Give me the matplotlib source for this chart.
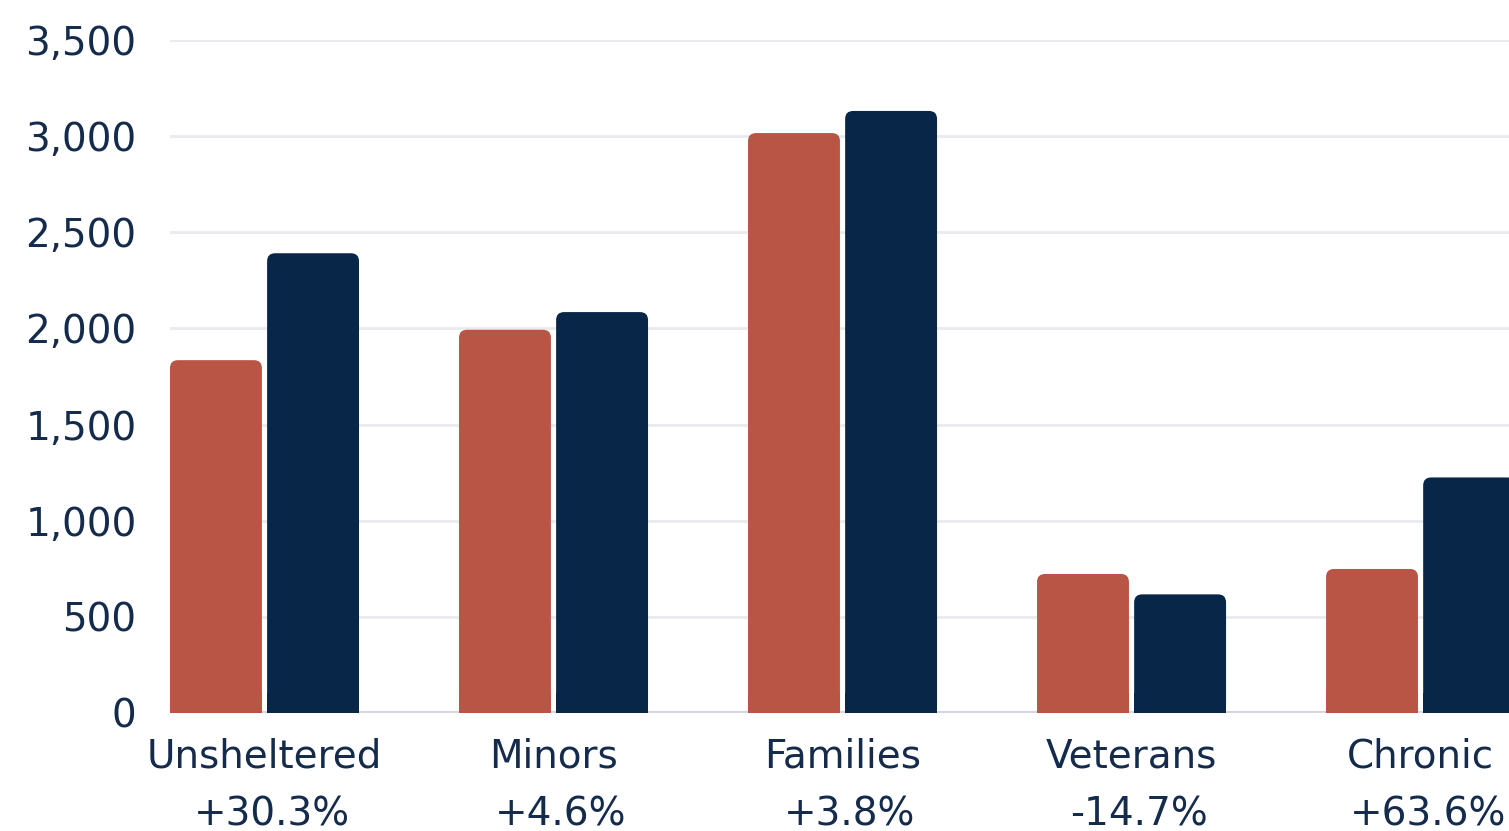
import matplotlib
matplotlib.use("Agg")
import matplotlib.pyplot as plt
from matplotlib.patches import FancyBboxPatch, Rectangle
from matplotlib.ticker import FuncFormatter

categories = ["Unsheltered", "Minors", "Families", "Veterans", "Chronic"]
changes = ["+30.3%", "+4.6%", "+3.8%", "-14.7%", "+63.6%"]
earlier = [1835, 1993, 3016, 723, 749]
later = [2391, 2085, 3131, 617, 1225]
yticks = [0, 500, 1000, 1500, 2000, 2500, 3000, 3500]

RED = "#B85545"
NAVY = "#082648"
TEXT = "#142B4C"
GRID = "#E8EAEE"

plt.rcParams["font.family"] = ["DejaVu Sans"]
FS = 28

W, H = 1509, 831
fig = plt.figure(figsize=(W / 100, H / 100), dpi=100)
ax_left, ax_right = 170 / W, 1.0
ax_bottom, ax_top = 1 - 713 / H, 1 - 40 / H
ax = fig.add_axes([ax_left, ax_bottom, ax_right - ax_left, ax_top - ax_bottom])

xmin, xmax = -0.327, 4.306
ymin, ymax = 0, 3500
ax.set_xlim(xmin, xmax)
ax.set_ylim(ymin, ymax)

width = 0.318
offset = 0.168
ax_w_px = (ax_right - ax_left) * W
ax_h_px = (ax_top - ax_bottom) * H
x_per_px = (xmax - xmin) / ax_w_px
y_per_px = (ymax - ymin) / ax_h_px
aspect = y_per_px / x_per_px
r = 8 * x_per_px


def rounded_bar(xc, h, color):
    x0 = xc - width / 2
    box = FancyBboxPatch((x0, 0), width, h,
                         boxstyle=f"round,pad=0,rounding_size={r}",
                         mutation_aspect=aspect, fc=color, ec="none",
                         zorder=3, clip_on=True)
    ax.add_patch(box)
    # square off the bottom corners
    ax.add_patch(Rectangle((x0, 0), width, min(h, 20 * y_per_px),
                           fc=color, ec="none", zorder=3))


for i, (a, b) in enumerate(zip(earlier, later)):
    rounded_bar(i - offset, a, RED)
    rounded_bar(i + offset, b, NAVY)

ax.set_yticks(yticks)
ax.yaxis.set_major_formatter(FuncFormatter(lambda v, p: f"{int(v):,}"))
ax.grid(axis="y", color=GRID, linewidth=2, zorder=0)
ax.axhline(0, color="#D3D7DE", linewidth=3, zorder=2)
for s in ax.spines.values():
    s.set_visible(False)
ax.tick_params(axis="y", length=0, pad=24, labelsize=FS, labelcolor=TEXT)
ax.set_xticks([])

xt = ax.get_xaxis_transform()
name_y = -55 / ax_h_px
change_y = -112 / ax_h_px
for i, (name, c) in enumerate(zip(categories, changes)):
    ax.text(i, name_y, name, transform=xt, ha="center", va="baseline",
            fontsize=FS, color=TEXT, clip_on=False)
    ax.text(i + 0.025, change_y, c, transform=xt, ha="center", va="baseline",
            fontsize=FS, color=TEXT, clip_on=False)

fig.savefig("out.png", dpi=100, facecolor="white")
